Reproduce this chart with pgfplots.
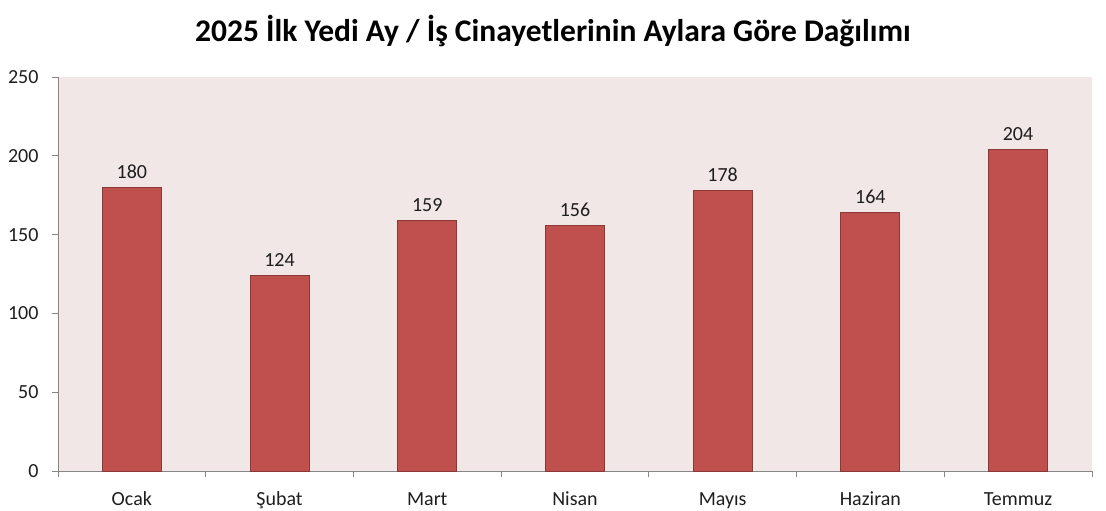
\documentclass[border=0pt]{standalone}
\usepackage{fontspec}
\setmainfont{Carlito}
\usepackage{pgfplots}
\pgfplotsset{compat=1.18}
\definecolor{plotbg}{RGB}{242,231,231}
\definecolor{barfill}{RGB}{192,80,77}
\definecolor{barline}{RGB}{140,56,54}
\definecolor{axisgray}{RGB}{134,134,134}
\definecolor{txt}{RGB}{30,30,30}
\begin{document}
\begin{tikzpicture}
\useasboundingbox (-58bp,-40bp) rectangle (1048bp,471bp);
\begin{axis}[
    scale only axis,
    width=1034bp, height=394bp,
    xmin=-0.5, xmax=6.5,
    ymin=0, ymax=250,
    ytick={0,50,...,250},
    xtick={-0.5,0.5,...,6.5},
    xticklabels={},
    extra x ticks={0,1,2,3,4,5,6},
    extra x tick labels={Ocak,Şubat,Mart,Nisan,Mayıs,Haziran,Temmuz},
    extra x tick style={major tick length=0pt},
    axis x line*=bottom,
    axis y line*=left,
    axis line style={draw=axisgray, line width=0.8bp, -},
    tick style={draw=axisgray, line width=0.8bp},
    tick align=outside,
    major tick length=6bp,
    axis background/.style={fill=plotbg},
    ybar,
    bar width=59bp,
    /pgf/number format/assume math mode=true,
    ticklabel style={font=\fontsize{20bp}{23bp}\selectfont, text=txt},
    yticklabel style={xshift=-10bp},
    xticklabel style={text height=14bp, text depth=5bp, yshift=-17bp},
    nodes near coords,
    nodes near coords style={font=\fontsize{20bp}{23bp}\selectfont, text=txt, yshift=5bp},
    title={2025 İlk Yedi Ay / İş Cinayetlerinin Aylara Göre Dağılımı},
    title style={font=\bfseries\fontsize{31.5bp}{36bp}\selectfont, text=black,
                 at={(0.4787,1)}, anchor=base, yshift=30bp},
]
\addplot[fill=barfill, draw=barline, line width=0.8bp] coordinates {
    (0,180) (1,124) (2,159) (3,156) (4,178) (5,164) (6,204)
};
\end{axis}
\end{tikzpicture}
\end{document}
